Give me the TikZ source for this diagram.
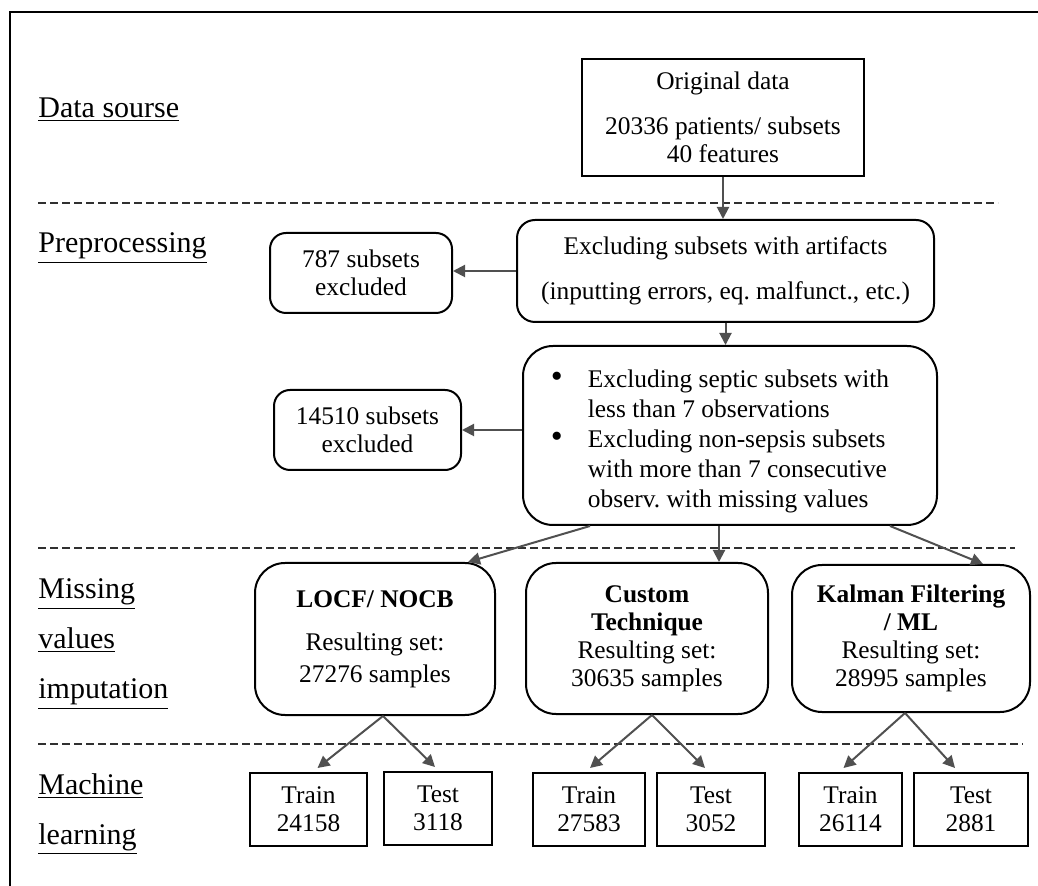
\documentclass[tikz,border=0pt]{standalone}
\usepackage{fontspec}
\setmainfont{Liberation Serif}
\usetikzlibrary{arrows.meta}
\definecolor{arrgray}{HTML}{505050}
\definecolor{sepgray}{HTML}{303030}
\newcommand{\bigdot}{{\fontsize{17}{15}\selectfont\textbullet}}
\frenchspacing

\begin{document}
\begin{tikzpicture}[x=0.5pt, y=-0.5pt,
  box/.style={draw, line width=1pt, align=center, inner sep=2pt, font=\fontsize{12.7}{14}\selectfont},
  rbox/.style={box, rounded corners=#1},
  rbox/.default=8pt,
  arr/.style={-{Triangle[length=6pt, width=6pt]}, line width=1pt, draw=arrgray},
  sep/.style={draw=sepgray, dash pattern=on 4pt off 2pt, line width=0.75pt},
  lbl/.style={anchor=west, align=left, inner sep=0pt, font=\fontsize{15}{25}\selectfont},
]
\useasboundingbox (0,0) rectangle (1038,886);

% --- frame and stage separators ---
\draw[line width=1pt] (10,886) -- (10,12) -- (1038,12);
\draw[sep] (38,203) -- (998,203);
\draw[sep] (38,548) -- (1015,548);
\draw[sep] (38,744) -- (1023,744);

% --- stage labels ---
\node[lbl] (src) at (38,110) {\underline{Data sourse}};
\node[lbl] (pre) at (38,248) {\underline{Preprocessing}};
\node[lbl] (imp) at (38,644) {\underline{Missing}\\\underline{values}\\\underline{imputation}};
\node[lbl] (ml) at (38,814) {\underline{Machine}\\\underline{learning}};

% --- Data source ---
\node[box, minimum width=141pt, minimum height=58.5pt] (orig) at (723,117.5) {Original data\\[8.5pt]20336 patients/ subsets\\40 features};

% --- Preprocessing ---
\node[rbox=9pt, minimum width=208.5pt, minimum height=51pt] (artif) at (725.5,271) {Excluding subsets with artifacts\\[8.5pt](inputting errors, eq. malfunct., etc.)};
\node[rbox, minimum width=91pt, minimum height=40pt] (ex787) at (361,273) {787 subsets\\excluded};

\node[rbox=15pt, minimum width=207pt, minimum height=89.5pt, font=\fontsize{12.7}{15}\selectfont] (bullets) at (730,435.5) {%
  \rule{0pt}{46.5pt}\begin{tabular}{@{}p{18.5pt}@{}l@{\hspace{10pt}}}
  \bigdot & Excluding septic subsets with\\
          & less than 7 observations\\
  \bigdot & Excluding non-sepsis subsets\\
          & with more than 7 consecutive\\
          & observ. with missing values
  \end{tabular}};
\node[rbox, minimum width=93.5pt, minimum height=40pt] (ex14510) at (367.5,430) {14510 subsets\\excluded};

\draw[arr] (orig.south) -- (orig.south |- artif.north);
\draw[arr] (artif.west) -- (artif.west -| ex787.east);
\draw[arr] (artif.south) -- (artif.south |- bullets.north);
\draw[arr] (ex14510.east -| bullets.west) -- (ex14510.east);

% --- Missing values imputation ---
\node[rbox=15pt, minimum width=120pt, minimum height=76pt] (locf) at (375,639) {\textbf{LOCF/ NOCB}\\[7.5pt]Resulting set:\\[2pt]27276 samples};
\node[rbox=15pt, minimum width=121pt, minimum height=75.5pt] (custom) at (647,638.5) {\textbf{Custom}\\\textbf{Technique}\\Resulting set:\\30635 samples};
\node[rbox=15pt, minimum width=119pt, minimum height=73.5pt] (kalman) at (911,638.5) {\textbf{Kalman Filtering}\\\textbf{/ ML}\\Resulting set:\\28995 samples};

\draw[arr] ([xshift=-70pt]bullets.south) -- ([xshift=46.5pt]locf.north);
\draw[arr] ([xshift=-5.5pt]bullets.south) -- ([xshift=-5.5pt]bullets.south |- custom.north);
\draw[arr] ([xshift=80pt]bullets.south) -- ([xshift=36pt]kalman.north);

% --- Machine learning ---
\node[box, minimum width=58.5pt, minimum height=36.5pt] (train1) at (308.5,809.5) {Train\\24158};
\node[box, minimum width=54pt, minimum height=36.5pt] (test1) at (438,808.5) {Test\\3118};
\node[box, minimum width=56pt, minimum height=36.5pt] (train2) at (589,809.5) {Train\\27583};
\node[box, minimum width=54pt, minimum height=36.5pt] (test2) at (711,809.5) {Test\\3052};
\node[box, minimum width=51.5pt, minimum height=36.5pt] (train3) at (850.5,809.5) {Train\\26114};
\node[box, minimum width=57pt, minimum height=36.5pt] (test3) at (971,809.5) {Test\\2881};

\draw[arr] ([xshift=4pt]locf.south) -- ([xshift=4.5pt, yshift=2pt]train1.north);
\draw[arr] ([xshift=4pt]locf.south) -- ([xshift=-1.5pt, yshift=2pt]test1.north);
\draw[arr] ([xshift=2.5pt]custom.south) -- ([xshift=0.5pt, yshift=2pt]train2.north);
\draw[arr] ([xshift=2.5pt]custom.south) -- ([xshift=-3pt, yshift=2pt]test2.north);
\draw[arr] ([xshift=-3pt]kalman.south) -- ([xshift=-3.5pt, yshift=2pt]train3.north);
\draw[arr] ([xshift=-3pt]kalman.south) -- ([xshift=-8pt, yshift=2pt]test3.north);

\end{tikzpicture}
\end{document}
